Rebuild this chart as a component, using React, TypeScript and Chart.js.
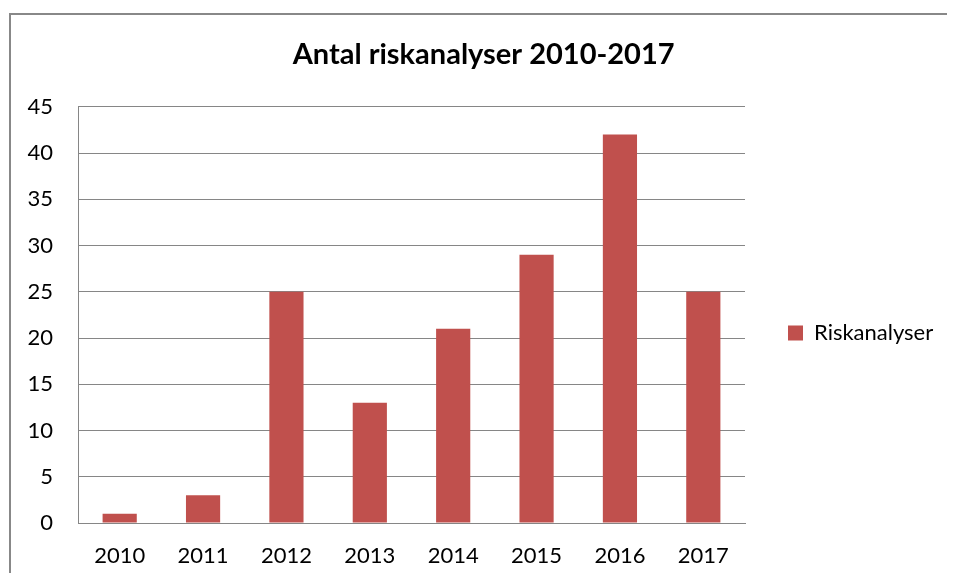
import React, { useEffect, useRef } from "react";
import { Chart, registerables } from "chart.js";

Chart.register(...registerables);

const categories = ["2010", "2011", "2012", "2013", "2014", "2015", "2016", "2017"];
const values = [1, 3, 25, 13, 21, 29, 42, 25];
const seriesLabel = "Riskanalyser";
const chartTitle = "Antal riskanalyser 2010-2017";
const yMin = 0;
const yMax = 45;
const yStep = 5;

const FONT = "Lato";
const TICK_SIZE = 22;
const LEGEND_SIZE = 22;
const TITLE_SIZE = 29;
const BAR_COLOR = "#C0504D";
const GRID_COLOR = "#868686";

export default function App() {
  const ref = useRef<HTMLCanvasElement>(null);

  useEffect(() => {
    document.body.style.overflow = "hidden";
    const canvas = ref.current!;
    const m = document.createElement("canvas").getContext("2d")!;
    m.font = `${LEGEND_SIZE}px ${FONT}`;
    const textW = m.measureText(seriesLabel).width;
    const legendPad = 43;
    const boxW = 15;
    // Chart.js vertical legend width = padding + itemWidth + 10
    const legendW = legendPad + boxW + LEGEND_SIZE / 2 + textW + 10;
    const plotLeft = 78;
    const plotRight = 745;
    const titleCenter = 489.5;
    const canvasW = Math.ceil(plotRight + legendW);
    const padL = Math.min(24, Math.max(0, 2 * titleCenter - canvasW));
    const canvasH = 581;
    canvas.width = canvasW;
    canvas.height = canvasH;
    canvas.style.width = canvasW + "px";
    canvas.style.height = canvasH + "px";
    const rightPad = Math.max(0, canvasW - (plotRight + legendW));

    const chart = new Chart(canvas, {
      type: "bar",
      data: {
        labels: categories,
        datasets: [
          {
            label: seriesLabel,
            data: values,
            backgroundColor: BAR_COLOR,
            borderWidth: 0,
            categoryPercentage: 1,
            barPercentage: 0.41,
          },
        ],
      },
      options: {
        responsive: false,
        animation: false,
        devicePixelRatio: 1,
        layout: { padding: { left: padL, top: 0, bottom: 0, right: rightPad } },
        plugins: {
          title: {
            display: true,
            text: chartTitle,
            color: "#000",
            font: { family: FONT, size: TITLE_SIZE, weight: "bold" },
            padding: { top: 37, bottom: 35 },
          },
          legend: {
            position: "right",
            fullSize: false,
            title: { display: true, text: " ", font: { size: 10 }, padding: { top: 12, bottom: 12 } },
            labels: {
              boxWidth: boxW,
              boxHeight: boxW,
              padding: legendPad,
              color: "#000",
              font: { family: FONT, size: LEGEND_SIZE },
            },
          },
          tooltip: { enabled: false },
        },
        scales: {
          x: {
            grid: { display: false, drawTicks: false },
            border: { display: true, color: GRID_COLOR, width: 1 },
            ticks: { color: "#000", font: { family: FONT, size: TICK_SIZE }, padding: 20 },
            afterFit: (s: any) => {
              s.height = 58;
            },
          },
          y: {
            min: yMin,
            max: yMax,
            grid: { color: GRID_COLOR, lineWidth: 1, drawTicks: false },
            border: { display: true, color: GRID_COLOR, width: 1 },
            ticks: {
              stepSize: yStep,
              color: "#000",
              font: { family: FONT, size: TICK_SIZE },
              padding: 25,
            },
            afterFit: (s: any) => {
              s.width = plotLeft - padL;
            },
          },
        },
      },
    });
    return () => chart.destroy();
  }, []);

  return (
    <div
      style={{
        position: "relative",
        width: 955,
        height: 581,
        margin: -8,
        overflow: "hidden",
        background: "#fff",
      }}
    >
      <div
        style={{
          position: "absolute",
          left: 9,
          top: 13,
          width: 2000,
          height: 2000,
          borderTop: "2px solid #888",
          borderLeft: "2px solid #888",
        }}
      />
      <canvas ref={ref} style={{ position: "absolute", left: 0, top: 0 }} />
    </div>
  );
}
